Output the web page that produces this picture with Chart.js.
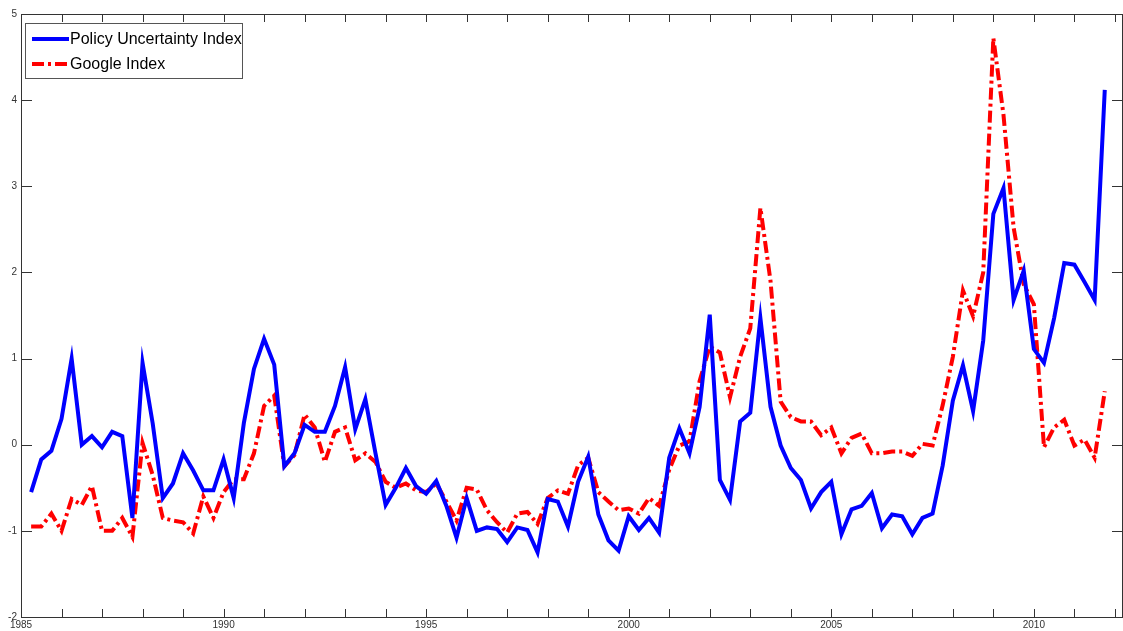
<!DOCTYPE html>
<html>
<head>
<meta charset="utf-8">
<script src="https://cdn.jsdelivr.net/npm/chart.js@4/dist/chart.umd.min.js"></script>
<style>
  html, body { margin: 0; padding: 0; background: #fff; }
  #wrap { width: 1123px; height: 631px; }
</style>
</head>
<body>
<div id="wrap"><canvas id="chart"></canvas></div>
<script>
// quarterly values, first point 1985.25, last 2011.75
const startYear = 1985.25;
const policyIndex = [
  -0.55, -0.17, -0.07, 0.3,
  1.0, 0.0, 0.1, -0.03,
  0.15, 0.1, -0.85, 0.95,
  0.25, -0.62, -0.45, -0.1,
  -0.3, -0.53, -0.53, -0.17,
  -0.62, 0.25, 0.88, 1.23,
  0.93, -0.25, -0.1, 0.23,
  0.15, 0.15, 0.45, 0.9,
  0.18, 0.53, -0.1, -0.7,
  -0.5, -0.27, -0.48, -0.57,
  -0.42, -0.71, -1.08, -0.62,
  -1.0, -0.96, -0.98, -1.13,
  -0.96, -0.99, -1.25, -0.63,
  -0.66, -0.95, -0.43, -0.14,
  -0.81, -1.11, -1.23, -0.83,
  -0.99, -0.85, -1.02, -0.15,
  0.19, -0.1, 0.44, 1.51,
  -0.41, -0.64, 0.27, 0.37,
  1.47, 0.44, -0.01, -0.27,
  -0.41, -0.74, -0.55, -0.43,
  -1.04, -0.75, -0.71, -0.56,
  -0.97, -0.81, -0.83, -1.04,
  -0.85, -0.8, -0.24, 0.51,
  0.92, 0.39, 1.21, 2.68,
  2.98, 1.68, 2.02, 1.11,
  0.95, 1.47, 2.11, 2.09,
  1.89, 1.68, 4.12
];
const googleIndex = [
  -0.95, -0.95, -0.8, -1.0,
  -0.63, -0.7, -0.48, -1.0,
  -1.0, -0.85, -1.07, 0.02,
  -0.35, -0.85, -0.88, -0.9,
  -1.03, -0.6, -0.85, -0.55,
  -0.4, -0.4, -0.1, 0.45,
  0.57, -0.25, -0.12, 0.35,
  0.2, -0.2, 0.15, 0.2,
  -0.18, -0.1, -0.2, -0.43,
  -0.5, -0.45, -0.53, -0.55,
  -0.45, -0.66, -0.88, -0.5,
  -0.52, -0.76, -0.9, -1.02,
  -0.8, -0.78, -0.92, -0.62,
  -0.53, -0.57, -0.24, -0.15,
  -0.55, -0.66, -0.76, -0.74,
  -0.8, -0.62, -0.71, -0.29,
  -0.01, 0.04, 0.74, 1.14,
  1.07, 0.55, 1.02, 1.35,
  2.75, 1.9, 0.5, 0.32,
  0.27, 0.27, 0.11, 0.2,
  -0.1, 0.08, 0.13, -0.1,
  -0.1, -0.08, -0.08, -0.13,
  0.01, -0.01, 0.46, 1.02,
  1.79, 1.49, 2.0, 4.72,
  3.83, 2.52, 1.86, 1.63,
  -0.03, 0.2, 0.29, -0.01,
  0.06, -0.15, 0.62
];
const xLabels = [1985, 1990, 1995, 2000, 2005, 2010];
const yTicks = [-2, -1, 0, 1, 2, 3, 4, 5];

const toPoints = arr => arr.map((v, i) => ({ x: startYear + i * 0.25, y: v }));

// box, inward ticks and legend, drawn like the original figure
const framePlugin = {
  id: 'frame',
  afterDraw(chart) {
    const { ctx, chartArea: a, scales } = chart;
    ctx.save();
    ctx.strokeStyle = '#333';
    ctx.lineWidth = 1;
    ctx.strokeRect(a.left + 0.5, a.top + 0.5, a.right - a.left - 1, a.bottom - a.top);
    ctx.beginPath();
    for (let yr = 1985; yr <= 2012; yr++) {
      const x = Math.round(scales.x.getPixelForValue(yr)) + 0.5;
      ctx.moveTo(x, a.bottom); ctx.lineTo(x, a.bottom - 8);
      ctx.moveTo(x, a.top); ctx.lineTo(x, a.top + 8);
    }
    yTicks.forEach(v => {
      const y = Math.round(scales.y.getPixelForValue(v)) + 0.5;
      ctx.moveTo(a.left, y); ctx.lineTo(a.left + 11, y);
      ctx.moveTo(a.right, y); ctx.lineTo(a.right - 11, y);
    });
    ctx.stroke();

    // legend
    const lx = 25, ly = 23, lw = 217, lh = 55;
    ctx.fillStyle = '#fff';
    ctx.fillRect(lx, ly, lw, lh);
    ctx.strokeStyle = '#555';
    ctx.strokeRect(lx + 0.5, ly + 0.5, lw, lh);
    ctx.font = '16px "Liberation Sans", Arial, sans-serif';
    ctx.textBaseline = 'middle';
    chart.data.datasets.forEach((ds, i) => {
      const y = ly + 16 + i * 25;
      ctx.strokeStyle = ds.borderColor;
      ctx.lineWidth = 4;
      ctx.setLineDash(ds.borderDash || []);
      ctx.beginPath(); ctx.moveTo(lx + 7, y); ctx.lineTo(lx + 44, y); ctx.stroke();
      ctx.setLineDash([]);
      ctx.fillStyle = '#000';
      ctx.fillText(ds.label, lx + 45, y + 1);
    });
    ctx.restore();
  }
};

new Chart(document.getElementById('chart'), {
  type: 'line',
  data: {
    datasets: [{
      label: 'Policy Uncertainty Index',
      data: toPoints(policyIndex),
      borderColor: '#0000ff',
      borderWidth: 4,
      pointRadius: 0,
      tension: 0
    }, {
      label: 'Google Index',
      data: toPoints(googleIndex),
      borderColor: '#ff0000',
      borderWidth: 4,
      borderDash: [12, 4, 3, 4],
      pointRadius: 0,
      tension: 0
    }]
  },
  options: {
    responsive: true,
    maintainAspectRatio: false,
    animation: false,
    layout: { padding: { left: 0, right: 0, top: 14, bottom: 0 } },
    plugins: { legend: { display: false }, tooltip: { enabled: false } },
    scales: {
      x: {
        type: 'linear',
        min: 1985,
        max: 2012.2,
        afterFit: s => { s.height = 14; },
        afterBuildTicks: s => { s.ticks = xLabels.map(v => ({ value: v })); },
        grid: { display: false, drawTicks: false },
        border: { display: false },
        ticks: {
          color: '#333',
          font: { family: '"Liberation Sans", Arial, sans-serif', size: 10 },
          padding: 2,
          maxRotation: 0,
          callback: v => String(v)
        }
      },
      y: {
        min: -2,
        max: 5,
        afterFit: s => { s.width = 21; },
        afterBuildTicks: s => { s.ticks = yTicks.map(v => ({ value: v })); },
        grid: { display: false, drawTicks: false },
        border: { display: false },
        ticks: {
          color: '#333',
          font: { family: '"Liberation Sans", Arial, sans-serif', size: 10 },
          padding: 4
        }
      }
    }
  },
  plugins: [framePlugin]
});
</script>
</body>
</html>
